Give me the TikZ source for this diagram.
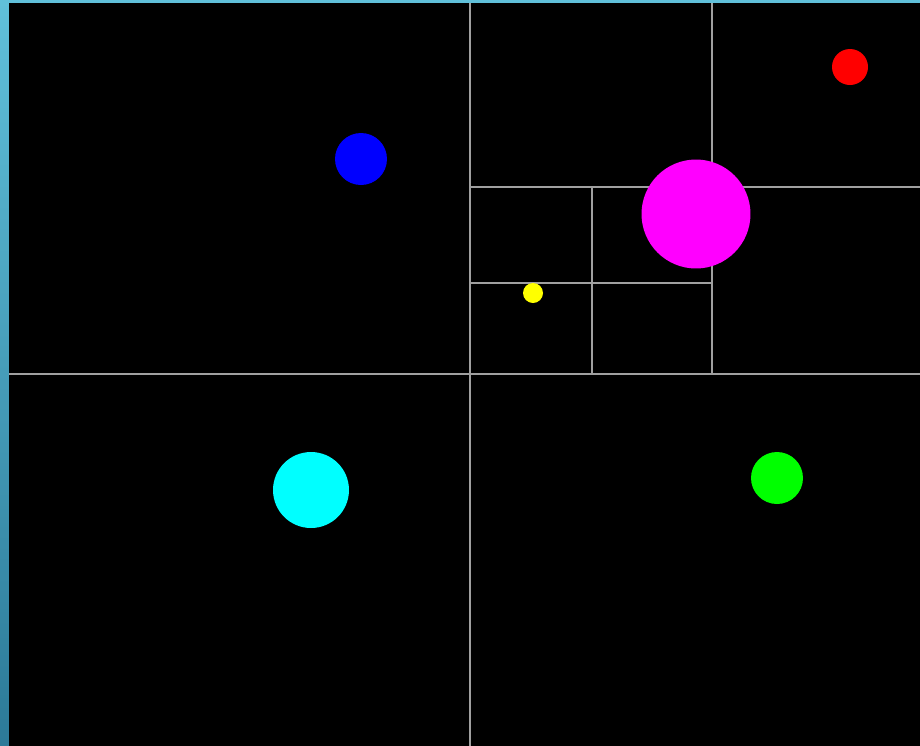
\documentclass[tikz,border=0pt]{standalone}
\definecolor{frametop}{RGB}{96,192,218}
\definecolor{framebot}{RGB}{44,122,152}
\definecolor{gridgray}{RGB}{160,160,160}
\definecolor{pblue}{RGB}{0,0,255}
\definecolor{pred}{RGB}{255,0,0}
\definecolor{pmagenta}{RGB}{255,0,255}
\definecolor{pyellow}{RGB}{255,255,0}
\definecolor{pcyan}{RGB}{0,255,255}
\definecolor{pgreen}{RGB}{0,255,0}
\begin{document}
\begin{tikzpicture}[
		x=0.02cm, y=-0.02cm,
		q/.style = {draw=gridgray, line width=1.1pt},
		p/.style = {circle, inner sep=0pt, outer sep=0pt},
		]
		
		%Frame
		\useasboundingbox (0, 0) rectangle (920, 745);
		\shade[top color=frametop, bottom color=framebot] (0, 0) rectangle (920, 745);
		\fill[black] (9, 3) rectangle (925, 750);
		
		%Corners
		\coordinate	(t0)	at	(470, 3);
		\coordinate	(b0)	at	(470, 750);
		\coordinate	(l0)	at	(9, 374);
		\coordinate	(r0)	at	(925, 374);
		\coordinate	(t1)	at	(712, 3);
		\coordinate	(b1)	at	(712, 374);
		\coordinate	(l1)	at	(470, 187);
		\coordinate	(r1)	at	(925, 187);
		\coordinate	(t2)	at	(592, 187);
		\coordinate	(b2)	at	(592, 374);
		\coordinate	(l2)	at	(470, 283);
		\coordinate	(r2)	at	(712, 283);
		
		%Lines
		\draw[q]	(t0) -- (b0);
		\draw[q]	(l0) -- (r0);
		\draw[q]	(t1) -- (b1);
		\draw[q]	(l1) -- (r1);
		\draw[q]	(t2) -- (b2);
		\draw[q]	(l2) -- (r2);
		
		%Nodes
		\node[p, fill=pblue,	minimum size=1.04cm]	(blue)		at	(361, 159)	{};
		\node[p, fill=pred,		minimum size=0.72cm]	(red)		at	(850, 67)	{};
		\node[p, fill=pmagenta,	minimum size=2.18cm]	(magenta)	at	(696, 214)	{};
		\node[p, fill=pyellow,	minimum size=0.40cm]	(yellow)	at	(533, 293)	{};
		\node[p, fill=pcyan,	minimum size=1.52cm]	(cyan)		at	(311, 490)	{};
		\node[p, fill=pgreen,	minimum size=1.04cm]	(green)		at	(777, 478)	{};
	\end{tikzpicture}
\end{document}
